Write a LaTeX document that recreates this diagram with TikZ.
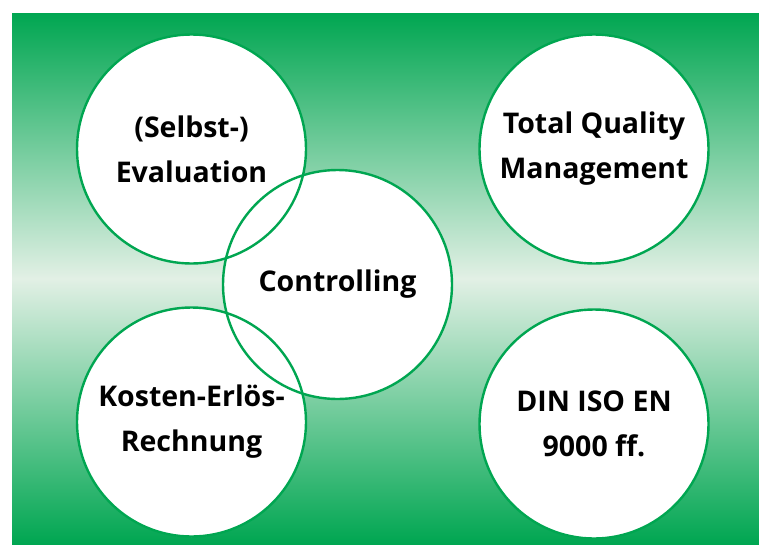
\documentclass[tikz,border=0pt]{standalone}
\usepackage{fontspec}
\setmainfont{Open Sans}
\definecolor{gr}{RGB}{0,166,81}
\definecolor{lt}{RGB}{226,240,229}
\tikzset{
  disc/.style={fill=white},
  ring/.style={circle, minimum size=229pt, inner sep=0pt, draw=gr, line width=2.4pt,
    align=center, font=\bfseries\fontsize{28.5}{45}\selectfont}
}
\begin{document}
\begin{tikzpicture}[x=1pt,y=-1pt]
\useasboundingbox (0,0) rectangle (759,544);
\shade[top color=gr, bottom color=gr, middle color=lt] (12,13) rectangle (759,544);
% white fills first
\fill[disc] (191.5,149) circle (115);
\fill[disc] (594,149) circle (115);
\fill[disc] (337.5,284.5) circle (115);
\fill[disc] (191.5,422) circle (115);
\fill[disc] (594,424) circle (115);
% outlined nodes with labels
\node[ring] (eval) at (191.5,149) {(Selbst-)\\Evaluation};
\node[ring] (tqm) at (594,149) {Total Quality\\Management};
\node[ring] (ctrl) at (337.5,284.5) {Controlling};
\node[ring] (ker) at (191.5,422) {Kosten-Erlös-\\Rechnung};
\node[ring] (din) at (594,424) {DIN ISO EN\\9000 ff.};
\end{tikzpicture}
\end{document}
